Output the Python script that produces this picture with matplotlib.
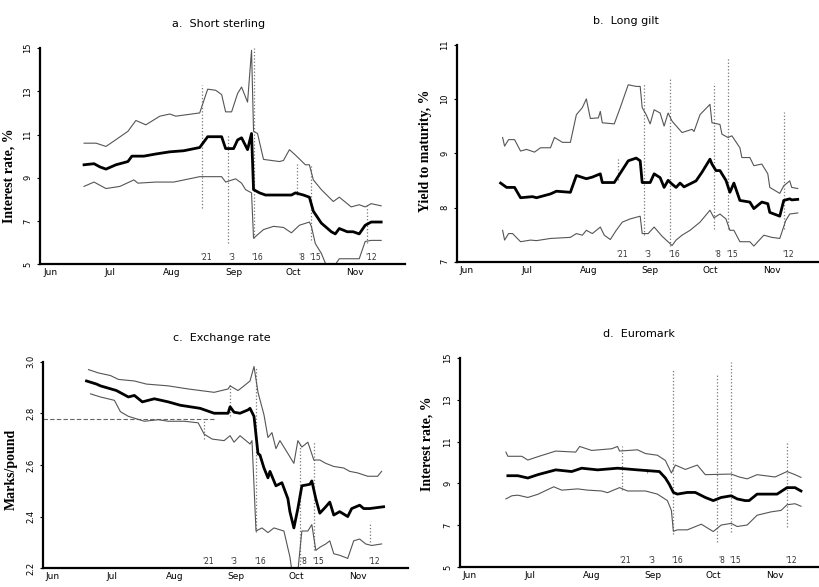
from matplotlib import pyplot as plt

# days counted from 1 June 1992
month_names = ['Jun', 'Jul', 'Aug', 'Sep', 'Oct', 'Nov']
month_starts = [0, 30, 61, 92, 122, 153]

event_days = [81, 94, 107, 129, 136, 164]
event_labels = ["'21", "'3", "'16", "'8", "'15", "'12"]

# a. Short sterling
a_mid_d = [22, 27, 30, 33, 38, 44, 46, 52, 58, 65, 72, 80, 84, 91, 93, 97, 99, 101,
           104, 106, 107, 110, 113, 120, 126, 128, 132, 135, 137, 141, 146, 148, 150,
           154, 157, 160, 163, 166, 171]
a_mid = [9.6, 9.65, 9.5, 9.4, 9.6, 9.75, 10.0, 10.0, 10.1, 10.2, 10.25, 10.4, 10.9,
         10.9, 10.35, 10.35, 10.75, 10.85, 10.3, 11.05, 8.45, 8.3, 8.2, 8.2, 8.2, 8.3,
         8.2, 8.1, 7.45, 6.9, 6.5, 6.4, 6.65, 6.5, 6.5, 6.4, 6.8, 6.95, 6.95]
a_up_d = [22, 28, 33, 37, 44, 48, 53, 60, 65, 68, 80, 84, 88, 91, 93, 96, 99, 101,
          104, 106, 107, 109, 112, 120, 122, 125, 128, 133, 135, 137, 141, 147, 150,
          156, 160, 163, 166, 171]
a_up = [10.6, 10.6, 10.45, 10.7, 11.15, 11.65, 11.45, 11.85, 11.95, 11.85, 12.0,
        13.1, 13.05, 12.85, 12.05, 12.05, 12.9, 13.2, 12.5, 14.9, 11.15, 11.05, 9.85,
        9.75, 9.8, 10.3, 10.05, 9.6, 9.6, 8.9, 8.45, 7.9, 8.1, 7.65, 7.75, 7.65, 7.8,
        7.7]
a_lo_d = [22, 27, 33, 40, 47, 49, 58, 67, 80, 91, 93, 98, 101, 103, 106, 107, 112,
          117, 122, 126, 130, 135, 136, 138, 141, 143, 146, 150, 160, 163, 166, 171]
a_lo = [8.6, 8.8, 8.5, 8.6, 8.9, 8.75, 8.8, 8.8, 9.05, 9.05, 8.8, 8.95, 8.75, 8.45,
        8.3, 6.2, 6.6, 6.75, 6.7, 6.45, 6.8, 6.95, 6.75, 5.95, 5.5, 5.05, 4.7, 5.25,
        5.25, 6.05, 6.1, 6.1]
a_ev_lo = [7.6, 6.0, 6.2, 8.2, 6.1, 6.0]
a_ev_hi = [13.3, 11.0, 15.0, 9.7, 9.6, 7.7]

# b. Long gilt
b_mid_d = [22, 25, 29, 32, 38, 40, 47, 50, 57, 60, 65, 68, 72, 73, 79, 86, 90, 92,
           93, 97, 99, 102, 104, 106, 108, 110, 112, 114, 120, 123, 127, 128, 130,
           132, 135, 137, 139, 142, 147, 149, 153, 156, 157, 162, 164, 167, 168, 171]
b_mid = [8.45, 8.37, 8.37, 8.18, 8.2, 8.18, 8.25, 8.3, 8.28, 8.59, 8.53, 8.56, 8.62,
         8.46, 8.46, 8.86, 8.91, 8.86, 8.46, 8.46, 8.62, 8.55, 8.37, 8.5, 8.43, 8.37,
         8.45, 8.38, 8.49, 8.65, 8.89, 8.8, 8.68, 8.68, 8.5, 8.28, 8.45, 8.13, 8.1,
         7.98, 8.1, 8.07, 7.91, 7.84, 8.13, 8.16, 8.14, 8.15]
b_up_d = [23, 24, 26, 29, 32, 35, 39, 42, 47, 49, 53, 57, 60, 63, 65, 67, 71, 72,
          73, 79, 82, 86, 90, 92, 93, 95, 97, 99, 102, 104, 106, 108, 113, 118, 119,
          122, 127, 128, 132, 133, 136, 138, 142, 143, 147, 149, 153, 156, 157, 162,
          164, 167, 168, 171]
b_up = [9.29, 9.13, 9.25, 9.25, 9.04, 9.07, 9.02, 9.1, 9.1, 9.29, 9.2, 9.2, 9.71,
        9.84, 10.0, 9.64, 9.65, 9.77, 9.56, 9.54, 9.84, 10.26, 10.23, 10.23, 9.84,
        9.71, 9.54, 9.8, 9.74, 9.5, 9.74, 9.59, 9.38, 9.44, 9.4, 9.71, 9.9, 9.56,
        9.53, 9.35, 9.29, 9.32, 9.1, 8.92, 8.92, 8.77, 8.8, 8.62, 8.37, 8.26, 8.4,
        8.49, 8.37, 8.35]
b_lo_d = [23, 24, 26, 28, 32, 37, 40, 47, 57, 60, 63, 65, 68, 72, 74, 77, 80, 83,
          87, 92, 93, 96, 99, 103, 108, 110, 113, 117, 122, 127, 129, 132, 135, 137,
          139, 142, 147, 149, 154, 158, 162, 165, 167, 171]
b_lo = [7.58, 7.4, 7.52, 7.52, 7.37, 7.4, 7.39, 7.43, 7.45, 7.52, 7.49, 7.58, 7.52,
        7.64, 7.49, 7.41, 7.58, 7.73, 7.79, 7.84, 7.52, 7.52, 7.64, 7.47, 7.3, 7.4,
        7.49, 7.58, 7.73, 7.95, 7.81, 7.88, 7.79, 7.58, 7.58, 7.37, 7.37, 7.29, 7.49,
        7.45, 7.43, 7.76, 7.88, 7.9]
b_ev_lo = [8.5, 7.5, 7.3, 7.6, 7.6, 7.6]
b_ev_hi = [8.9, 10.3, 10.4, 10.3, 10.75, 9.75]

# c. Exchange rate (marks per pound), ERM floor
c_floor = 2.778
c_mid_d = [22, 27, 29, 37, 43, 46, 50, 56, 63, 69, 79, 86, 93, 94, 96, 99, 103, 104,
           106, 108, 109, 111, 113, 114, 117, 120, 123, 124, 126, 128, 130, 134, 135,
           137, 139, 142, 144, 146, 149, 153, 155, 159, 161, 164, 171]
c_mid = [2.925, 2.913, 2.906, 2.888, 2.863, 2.869, 2.844, 2.856, 2.844, 2.831, 2.819,
         2.8, 2.8, 2.825, 2.804, 2.8, 2.813, 2.819, 2.788, 2.644, 2.638, 2.588, 2.55,
         2.575, 2.519, 2.531, 2.469, 2.419, 2.356, 2.431, 2.519, 2.525, 2.538, 2.469,
         2.413, 2.438, 2.456, 2.406, 2.419, 2.4, 2.431, 2.444, 2.431, 2.431, 2.438]
c_up_d = [23, 28, 34, 38, 46, 52, 63, 73, 86, 93, 94, 98, 101, 104, 106, 108, 111,
          113, 115, 117, 119, 123, 126, 128, 130, 133, 136, 139, 142, 146, 151, 154,
          158, 163, 168, 170]
c_up = [2.969, 2.956, 2.946, 2.931, 2.925, 2.913, 2.906, 2.894, 2.881, 2.894, 2.906,
        2.888, 2.906, 2.925, 2.981, 2.881, 2.794, 2.706, 2.725, 2.663, 2.694, 2.644,
        2.606, 2.694, 2.669, 2.688, 2.619, 2.619, 2.606, 2.594, 2.588, 2.575, 2.569,
        2.556, 2.556, 2.575]
c_lo_d = [24, 29, 36, 39, 43, 46, 51, 58, 63, 71, 78, 81, 85, 91, 94, 96, 99, 104,
          105, 107, 110, 113, 116, 121, 124, 125, 128, 130, 133, 135, 137, 139, 142,
          144, 146, 149, 153, 156, 159, 162, 165, 170]
c_lo = [2.875, 2.863, 2.85, 2.806, 2.788, 2.781, 2.769, 2.775, 2.769, 2.769, 2.763,
        2.719, 2.7, 2.694, 2.713, 2.688, 2.713, 2.681, 2.694, 2.344, 2.356, 2.338,
        2.356, 2.344, 2.244, 2.19, 2.19, 2.344, 2.344, 2.369, 2.269, 2.281, 2.294,
        2.306, 2.256, 2.25, 2.238, 2.306, 2.313, 2.294, 2.288, 2.294]
c_ev_lo = [2.70, 2.79, 2.34, 2.2, 2.27, 2.30]
c_ev_hi = [2.77, 2.91, 2.98, 2.69, 2.69, 2.37]

# d. Euromark
d_mid_d = [24, 29, 34, 39, 48, 56, 61, 69, 79, 89, 100, 103, 105, 107, 109, 114, 118,
           123, 127, 131, 136, 139, 143, 145, 149, 159, 164, 168, 171]
d_mid = [9.37, 9.37, 9.26, 9.42, 9.65, 9.57, 9.73, 9.65, 9.73, 9.65, 9.57, 9.26, 8.95,
         8.57, 8.49, 8.57, 8.57, 8.33, 8.18, 8.33, 8.41, 8.26, 8.18, 8.18, 8.49, 8.49,
         8.8, 8.8, 8.64]
d_up_d = [23, 24, 31, 34, 39, 48, 58, 60, 66, 76, 79, 80, 89, 93, 99, 103, 106, 108,
          113, 119, 123, 136, 140, 144, 149, 158, 164, 168, 171]
d_up = [10.5, 10.3, 10.3, 10.12, 10.28, 10.55, 10.5, 10.77, 10.58, 10.66, 10.77,
        10.55, 10.61, 10.43, 10.35, 10.1, 9.5, 9.88, 9.67, 9.88, 9.42, 9.45, 9.31,
        9.22, 9.42, 9.31, 9.57, 9.42, 9.29]
d_lo_d = [23, 26, 29, 34, 39, 47, 51, 59, 64, 71, 74, 80, 84, 93, 99, 104, 106, 107,
          109, 114, 121, 127, 131, 136, 139, 144, 149, 156, 161, 164, 168, 171]
d_lo = [8.26, 8.41, 8.44, 8.33, 8.48, 8.84, 8.68, 8.74, 8.68, 8.64, 8.56, 8.8, 8.64,
        8.64, 8.49, 8.18, 7.71, 6.71, 6.78, 6.78, 7.05, 6.7, 7.01, 7.09, 6.94, 7.01,
        7.48, 7.64, 7.71, 7.98, 8.03, 7.91]
d_ev_lo = [8.7, 9.5, 6.6, 6.2, 6.7, 6.9]
d_ev_hi = [10.77, 9.7, 14.5, 14.2, 14.8, 11.0]

panels = [
  dict(title='a.  Short sterling', ylabel='Interest rate, %', ylim=(5, 15),
       yticks=[5, 7, 9, 11, 13, 15], fmt='%d',
       mid=(a_mid_d, a_mid), up=(a_up_d, a_up), lo=(a_lo_d, a_lo),
       ev=(a_ev_lo, a_ev_hi), rect=[0.049, 0.550, 0.445, 0.368],
       tx=0.49, lab=(-0.068, 0.41)),
  dict(title='b.  Long gilt', ylabel='Yield to maturity, %', ylim=(7, 11),
       yticks=[7, 8, 9, 10, 11], fmt='%d',
       mid=(b_mid_d, b_mid), up=(b_up_d, b_up), lo=(b_lo_d, b_lo),
       ev=(b_ev_lo, b_ev_hi), rect=[0.557, 0.554, 0.445, 0.370],
       tx=0.465, lab=(-0.068, 0.51)),
  dict(title='c.  Exchange rate', ylabel='Marks/pound', ylim=(2.2, 3.0),
       yticks=[2.2, 2.4, 2.6, 2.8, 3.0], fmt='%.1f',
       mid=(c_mid_d, c_mid), up=(c_up_d, c_up), lo=(c_lo_d, c_lo),
       ev=(c_ev_lo, c_ev_hi), rect=[0.052, 0.032, 0.445, 0.352],
       tx=0.49, lab=(-0.068, 0.48)),
  dict(title='d.  Euromark', ylabel='Interest rate, %', ylim=(5, 15),
       yticks=[5, 7, 9, 11, 13, 15], fmt='%d',
       mid=(d_mid_d, d_mid), up=(d_up_d, d_up), lo=(d_lo_d, d_lo),
       ev=(d_ev_lo, d_ev_hi), rect=[0.561, 0.034, 0.445, 0.356],
       tx=0.49, lab=(-0.074, 0.59)),
]

fig = plt.figure(figsize=(8.2, 5.87), dpi=100)
fig.patch.set_facecolor('white')

for p in panels:
  ax = fig.add_axes(p['rect'])
  ax.set_xlim(0, 183)
  ax.set_ylim(*p['ylim'])

  ev_lo, ev_hi = p['ev']
  ax.vlines(event_days, ev_lo, ev_hi, colors='#777777', linestyles=':', lw=0.9)
  if p['ylabel'] == 'Marks/pound':
    ax.hlines(c_floor, 0, 86, colors='#666666', linestyles=(0, (4, 2)), lw=0.8)

  ax.plot(*p['up'], color='#555555', lw=0.8)
  ax.plot(*p['lo'], color='#555555', lw=0.8)
  ax.plot(*p['mid'], color='black', lw=2.0)

  for d, t in zip(event_days, event_labels):
    ax.text(d + 2, 0.012, t, transform=ax.get_xaxis_transform(), ha='center',
            va='bottom', fontsize=5.5, color='#333333')

  for s in ['top', 'right']:
    ax.spines[s].set_visible(False)
  for s in ['left', 'bottom']:
    ax.spines[s].set_linewidth(1.6)

  ax.set_yticks(p['yticks'])
  ax.set_yticklabels([p['fmt'] % v for v in p['yticks']], rotation=90,
                     va='center', fontsize=6)
  ax.tick_params(axis='y', length=2.5, width=0.8, pad=3)
  ax.set_xticks([m + 5 for m in month_starts])
  ax.set_xticklabels(month_names, fontsize=6.5)
  ax.tick_params(axis='x', length=0, pad=3)

  ax.set_title(p['title'], fontsize=8, x=p['tx'], pad=15)
  ax.set_ylabel(p['ylabel'], family='Liberation Serif', fontweight='bold',
                fontsize=10)
  ax.yaxis.set_label_coords(*p['lab'])

plt.savefig('out.png', dpi=100, facecolor='white')
